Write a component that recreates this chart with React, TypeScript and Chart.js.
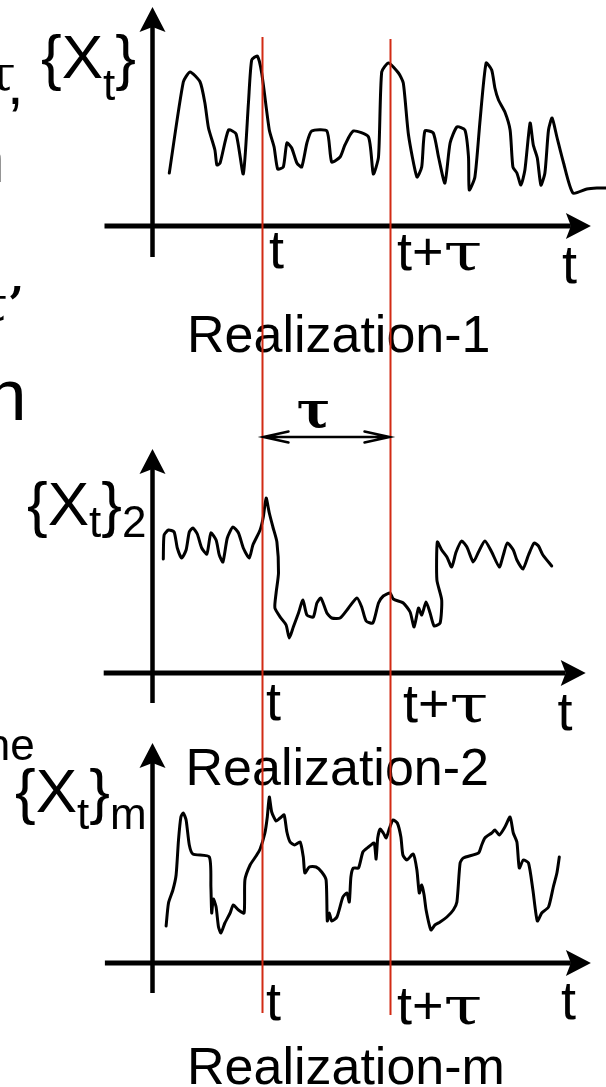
import React, { useEffect, useRef } from "react";
import { Chart, registerables } from "chart.js";

Chart.register(...registerables);

// Marked instants on the time axis
const T_MARK = 27.5;
const TAU = 32;

// Realization 1 of the process {X_t}
const realization1Time = [
  4.2, 7.7, 9.4, 11.9, 13.1, 14.0, 15.6, 16.1, 16.9, 19.0, 20.9, 22.7, 24.0, 24.8, 26.2, 27.3, 29.2, 30.4, 31.3, 32.7,
  33.6, 34.8, 36.1, 37.3, 38.6, 39.8, 43.6, 44.8, 46.9, 48.1, 50.2, 54.0, 55.2, 56.5, 57.3, 59.0, 61.5, 62.7, 64.0, 66.1,
  67.3, 68.1, 70.2, 71.5, 73.1, 74.4, 76.1, 78.1, 79.0, 79.2, 80.6, 81.9, 83.4, 84.8, 85.6, 86.5, 88.1, 89.4, 90.1, 91.1,
  92.1, 93.1, 94.4, 95.2, 96.2, 97.1, 98.1, 99.0, 99.9, 101.1, 102.7, 105.1, 108.6, 111.1, 113.4,
];
const realization1Value = [
  5.3, 14.4, 15.4, 14.4, 12.3, 9.8, 7.6, 6.1, 6.3, 9.6, 9.2, 5.2, 12.4, 16.6, 17.0, 15.3, 9.6, 7.9, 5.7, 5.9,
  8.3, 7.8, 6.3, 5.9, 8.3, 9.5, 9.5, 6.4, 6.9, 8.1, 9.5, 8.9, 5.2, 6.9, 15.4, 16.3, 15.3, 14.3, 9.1, 4.9,
  5.9, 9.5, 9.3, 6.9, 4.3, 8.3, 9.9, 9.6, 6.9, 3.6, 4.9, 10.6, 16.3, 15.6, 13.8, 12.6, 11.4, 9.6, 5.9, 5.3,
  4.1, 5.6, 10.3, 8.1, 6.8, 4.1, 5.3, 9.6, 10.8, 8.9, 6.4, 3.3, 3.7, 3.8, 3.8,
];

// Realization 2
const realization2Time = [
  2.7, 2.9, 4.0, 5.4, 6.2, 7.3, 8.4, 9.2, 10.1, 11.2, 12.3, 13.6, 14.6, 15.9, 16.7, 17.6, 18.7, 20.1, 21.5, 22.7,
  24.2, 25.1, 26.9, 27.7, 28.4, 29.2, 30.1, 31.1, 31.5, 30.9, 30.6, 32.1, 33.4, 34.2, 35.2, 36.5, 37.6, 38.6, 40.2, 41.1,
  42.1, 43.6, 44.8, 46.9, 49.0, 51.1, 52.3, 53.4, 55.1, 56.5, 57.7, 59.4, 60.2, 62.7, 64.4, 65.4, 66.5, 67.3, 68.4, 69.4,
  70.4, 71.9, 72.3, 71.1, 71.2, 72.3, 73.6, 74.8, 75.9, 77.3, 78.6, 80.2, 81.5, 83.1, 84.8, 86.7, 87.7, 88.7, 90.2, 91.1,
  92.6, 94.0, 95.4, 96.5, 97.6, 99.8,
];
const realization2Value = [
  11.4, 13.8, 14.3, 14.1, 12.5, 11.5, 12.3, 14.1, 14.5, 13.9, 12.5, 11.9, 14.0, 13.3, 11.8, 11.1, 13.5, 14.6, 14.0, 12.5,
  11.5, 12.8, 14.3, 15.6, 17.5, 16.0, 14.6, 13.1, 10.0, 8.0, 6.5, 5.5, 4.8, 3.5, 4.6, 6.0, 7.3, 5.8, 5.6, 7.0,
  7.5, 6.0, 5.5, 5.5, 6.5, 7.5, 6.6, 5.2, 5.0, 7.0, 7.7, 8.0, 7.4, 7.0, 6.1, 4.6, 6.5, 5.8, 7.1, 6.0,
  4.7, 5.0, 7.3, 9.3, 13.1, 12.3, 11.6, 10.6, 12.1, 13.2, 12.6, 11.1, 12.1, 13.2, 12.1, 10.6, 11.8, 13.0, 12.3, 11.3,
  10.4, 11.8, 13.0, 12.7, 11.8, 10.7,
];

// Realization m
const realizationMTime = [
  3.4, 4.0, 5.1, 5.9, 6.5, 7.1, 7.7, 8.4, 9.2, 10.1, 14.2, 14.6, 14.8, 15.2, 15.9, 16.5, 17.1, 18.1, 19.4, 20.2,
  21.5, 22.9, 23.1, 24.4, 25.9, 26.9, 28.1, 28.7, 29.2, 29.8, 30.9, 31.9, 32.9, 33.6, 34.4, 35.5, 36.9, 37.7, 38.1, 39.2,
  40.9, 42.3, 43.4, 43.7, 44.2, 44.8, 46.1, 47.6, 48.6, 49.2, 49.6, 50.2, 51.5, 52.6, 54.0, 55.4, 55.9, 56.3, 56.9, 57.7,
  58.4, 59.1, 60.1, 61.2, 62.1, 62.6, 63.6, 65.2, 66.1, 66.7, 67.3, 67.9, 68.4, 69.6, 70.6, 71.9, 73.6, 75.2, 76.1, 76.9,
  77.7, 81.5, 82.3, 83.1, 84.8, 85.6, 86.7, 88.1, 89.4, 90.2, 91.1, 91.7, 92.7, 94.0, 95.1, 96.2, 97.3, 99.0, 100.2, 101.1,
  101.7,
];
const realizationMValue = [
  3.7, 6.0, 7.3, 8.8, 12.3, 14.6, 15.0, 14.3, 11.8, 10.9, 10.6, 7.6, 5.0, 6.4, 5.6, 3.6, 3.0, 4.0, 5.0, 5.8,
  5.3, 5.0, 8.3, 9.8, 10.7, 11.4, 13.0, 14.6, 16.6, 15.1, 14.2, 14.5, 14.8, 13.1, 12.1, 11.8, 12.1, 10.6, 9.0, 9.6,
  9.6, 9.1, 8.3, 4.2, 5.0, 4.2, 4.6, 6.6, 7.0, 6.1, 8.6, 9.5, 9.5, 11.1, 11.6, 12.0, 10.4, 12.5, 13.4, 13.0,
  12.5, 13.3, 14.3, 14.0, 12.6, 10.8, 10.3, 10.9, 9.3, 7.0, 7.8, 6.8, 5.3, 3.3, 3.8, 4.1, 4.6, 5.3, 6.1, 10.0,
  10.5, 11.0, 11.8, 12.5, 13.0, 13.3, 12.8, 13.6, 14.6, 13.0, 12.1, 9.5, 10.3, 10.0, 7.3, 4.2, 5.0, 5.6, 7.6, 9.0,
  10.6,
];

const SANS = '"Liberation Sans", Arial, sans-serif';
const SERIF = '"DejaVu Serif", "Liberation Serif", serif';
const RED = "#d22b14";
const WIDTH = 606;
const HEIGHT = 1087;

// Layout and styling of the three stacked panels (value units of each panel's own scales,
// label offsets in pixels from the panel origin).
const PANELS = [
  {
    scaleId: "y1", min: -14.4, max: 22.6, stackWeight: 370, order: 3,
    time: realization1Time, value: realization1Value,
    axis: { left: -12, right: 109.6, top: 21.9, bottom: -3.1 },
    name: { dx: -111.5, dy: -148, subDy: 22, tail: "", tailDy: 0 },
    marks: { tDx: 6.5, tDy: 42, tauDx: 6.5, tauDy: 44, endDx: 409.5, endDy: 57 },
    caption: { text: "Realization-1", dx: 34.5, dy: 126 },
  },
  {
    scaleId: "y2", min: -6.7, max: 30.3, stackWeight: 370, order: 2,
    time: realization2Time, value: realization2Value,
    axis: { left: -12.2, right: 108.3, top: 22.4, bottom: -3.0 },
    name: { dx: -125.5, dy: -148, subDy: 12, tail: "2", tailDy: 12 },
    marks: { tDx: 3.5, tDy: 47, tauDx: 12.5, tauDy: 49, endDx: 405, endDy: 57 },
    caption: { text: "Realization-2", dx: 33, dy: 112 },
  },
  {
    scaleId: "y3", min: -12.4, max: 22.3, stackWeight: 347, order: 1,
    time: realizationMTime, value: realizationMValue,
    axis: { left: -11.9, right: 109.6, top: 22.0, bottom: -3.0 },
    name: { dx: -137.5, dy: -151, subDy: 17, tail: "m", tailDy: 17 },
    marks: { tDx: 3.5, tDy: 57, tauDx: 6.5, tauDy: 61, endDx: 408.5, endDy: 56 },
    caption: { text: "Realization-m", dx: 34.5, dy: 121 },
  },
];

// Vertical extent of the two red time markers (top in y1 units, bottom in y3 units)
const MARKER_TOP = [18.9, 18.7];
const MARKER_BOTTOM = [-5.0, -5.2];
// Height of the tau span arrow in y2 units
const TAU_ARROW_LEVEL = 23.6;

function arrowHead(ctx: CanvasRenderingContext2D, tipX: number, tipY: number, dx: number, dy: number) {
  const len = 25, half = 13, notch = 5;
  const px = -dy, py = dx;
  const bx = tipX - dx * len, by = tipY - dy * len;
  const nx = tipX - dx * (len - notch), ny = tipY - dy * (len - notch);
  ctx.beginPath();
  ctx.moveTo(tipX, tipY);
  ctx.lineTo(bx + px * half, by + py * half);
  ctx.lineTo(nx, ny);
  ctx.lineTo(bx - px * half, by - py * half);
  ctx.closePath();
  ctx.fill();
}

function drawName(ctx: CanvasRenderingContext2D, x: number, base: number, subDy: number, tail: string, tailDy: number) {
  ctx.font = `62px ${SANS}`;
  ctx.fillText("{X", x, base);
  let cx = x + ctx.measureText("{X").width;
  ctx.font = `44px ${SANS}`;
  ctx.fillText("t", cx, base + subDy);
  cx += ctx.measureText("t").width;
  ctx.font = `62px ${SANS}`;
  ctx.fillText("}", cx, base);
  cx += ctx.measureText("}").width;
  if (tail) {
    ctx.font = `44px ${SANS}`;
    ctx.fillText(tail, cx, base + tailDy);
  }
}

// a wide tau, as set in the symbol face of the time labels
function drawWideTau(ctx: CanvasRenderingContext2D, x: number, base: number, size: number, stretch: number) {
  ctx.save();
  ctx.translate(x, base);
  ctx.scale(stretch, 1);
  ctx.font = `${size}px ${SERIF}`;
  ctx.fillText("τ", 0, 0);
  ctx.restore();
}

function drawTPlusTau(ctx: CanvasRenderingContext2D, x: number, base: number) {
  ctx.font = `54px ${SANS}`;
  ctx.fillText("t+", x, base);
  const w = ctx.measureText("t+").width;
  drawWideTau(ctx, x + w, base, 52, 1.35);
}

const diagramDecor = {
  id: "diagramDecor",
  afterDatasetsDraw(chart: any) {
    const ctx: CanvasRenderingContext2D = chart.ctx;
    const xs = chart.scales.x;
    const ox = xs.getPixelForValue(0);
    const markT = xs.getPixelForValue(T_MARK);
    const markTT = xs.getPixelForValue(T_MARK + TAU);

    ctx.save();
    ctx.fillStyle = "#000";
    ctx.strokeStyle = "#000";
    ctx.textBaseline = "alphabetic";
    ctx.textAlign = "left";

    PANELS.forEach((p) => {
      const ys = chart.scales[p.scaleId];
      const oy = ys.getPixelForValue(0);
      const xl = xs.getPixelForValue(p.axis.left);
      const xr = xs.getPixelForValue(p.axis.right);
      const yt = ys.getPixelForValue(p.axis.top);
      const yb = ys.getPixelForValue(p.axis.bottom);

      // time axis
      ctx.lineWidth = 5;
      ctx.lineCap = "butt";
      ctx.beginPath();
      ctx.moveTo(xl, oy);
      ctx.lineTo(xr - 20, oy);
      ctx.stroke();
      arrowHead(ctx, xr, oy, 1, 0);

      // value axis
      ctx.lineWidth = 4.5;
      ctx.beginPath();
      ctx.moveTo(ox, yb);
      ctx.lineTo(ox, yt + 20);
      ctx.stroke();
      arrowHead(ctx, ox, yt, 0, -1);

      // series name
      drawName(ctx, ox + p.name.dx, oy + p.name.dy, p.name.subDy, p.name.tail, p.name.tailDy);

      // time labels
      ctx.font = `54px ${SANS}`;
      ctx.fillText("t", markT + p.marks.tDx, oy + p.marks.tDy);
      drawTPlusTau(ctx, markTT + p.marks.tauDx, oy + p.marks.tauDy);
      ctx.font = `54px ${SANS}`;
      ctx.fillText("t", ox + p.marks.endDx, oy + p.marks.endDy);

      // caption
      ctx.font = `52px ${SANS}`;
      ctx.fillText(p.caption.text, ox + p.caption.dx, oy + p.caption.dy);
    });

    // red markers at t and t+tau running through all panels
    const y1 = chart.scales.y1;
    const y3 = chart.scales.y3;
    ctx.strokeStyle = RED;
    ctx.lineWidth = 2;
    [markT, markTT].forEach((mx, i) => {
      ctx.beginPath();
      ctx.moveTo(mx, y1.getPixelForValue(MARKER_TOP[i]));
      ctx.lineTo(mx, y3.getPixelForValue(MARKER_BOTTOM[i]));
      ctx.stroke();
    });

    // tau span arrow
    const ay = chart.scales.y2.getPixelForValue(TAU_ARROW_LEVEL);
    ctx.strokeStyle = "#000";
    ctx.lineWidth = 2.5;
    ctx.lineCap = "round";
    ctx.beginPath();
    ctx.moveTo(markT + 1, ay);
    ctx.lineTo(markTT - 1, ay);
    ctx.moveTo(markT + 26, ay - 5.5);
    ctx.lineTo(markT + 1, ay);
    ctx.lineTo(markT + 26, ay + 5.5);
    ctx.moveTo(markTT - 26, ay - 5.5);
    ctx.lineTo(markTT - 1, ay);
    ctx.lineTo(markTT - 26, ay + 5.5);
    ctx.stroke();
    ctx.font = `bold 50px ${SERIF}`;
    ctx.textAlign = "center";
    ctx.fillText("τ", (markT + markTT) / 2 - 13, ay - 10);
    ctx.textAlign = "left";

    // text running in from the left margin
    drawWideTau(ctx, -16, 90, 48, 1.2);
    ctx.font = `60px ${SANS}`;
    ctx.fillText(",", 7, 104);
    ctx.font = `66px ${SANS}`;
    ctx.fillText("n", -32, 182);
    ctx.font = `bold 46px ${SERIF}`;
    ctx.textAlign = "right";
    ctx.fillText("τ’", 24, 320);
    ctx.textAlign = "left";
    ctx.font = `72px ${SANS}`;
    ctx.fillText("n", -13.6, 420);
    ctx.font = `44px ${SANS}`;
    ctx.fillText("ne", -14.2, 760);

    ctx.restore();
  },
};

export default function App() {
  const canvasRef = useRef<HTMLCanvasElement | null>(null);

  useEffect(() => {
    if (!canvasRef.current) return;

    const datasets = PANELS.map((p) => ({
      data: p.time.map((t, i) => ({ x: t, y: p.value[i] })),
      xAxisID: "x",
      yAxisID: p.scaleId,
      borderColor: "#000",
      borderWidth: 3,
      borderJoinStyle: "round" as const,
      borderCapStyle: "round" as const,
      pointRadius: 0,
      tension: 0.2,
      fill: false,
      clip: false as const,
    }));

    const scales: Record<string, any> = {
      x: { type: "linear", min: -38.125, max: 113.375, display: false },
    };
    PANELS.forEach((p) => {
      scales[p.scaleId] = {
        type: "linear",
        position: "left",
        stack: "panels",
        stackWeight: p.stackWeight,
        weight: p.order,
        min: p.min,
        max: p.max,
        display: false,
      };
    });

    const chart = new Chart(canvasRef.current, {
      type: "line",
      data: { datasets },
      options: {
        animation: false,
        responsive: false,
        devicePixelRatio: 1,
        events: [],
        layout: { padding: 0 },
        plugins: { legend: { display: false }, tooltip: { enabled: false } },
        scales,
      },
      plugins: [diagramDecor],
    });

    return () => chart.destroy();
  }, []);

  return (
    <div style={{ position: "absolute", left: 0, top: 0, width: WIDTH, height: HEIGHT, background: "#fff" }}>
      <canvas ref={canvasRef} width={WIDTH} height={HEIGHT} style={{ display: "block", width: WIDTH, height: HEIGHT }} />
    </div>
  );
}
